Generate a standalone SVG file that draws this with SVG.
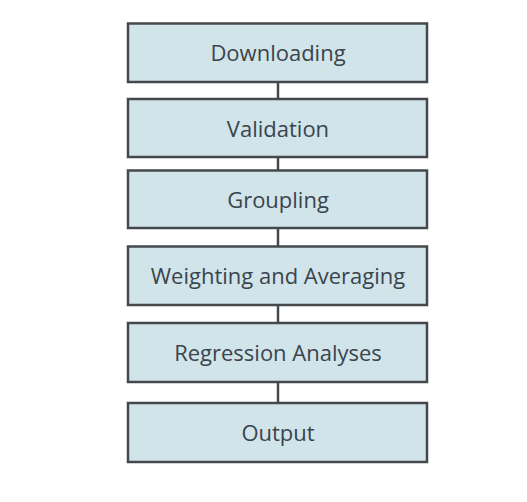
<svg xmlns="http://www.w3.org/2000/svg" width="527" height="502" viewBox="0 0 527 502">
<style>
.box{fill:#d0e4ea;stroke:#45494c;stroke-width:2.5}
.lbl{font-family:"Open Sans","Noto Sans",sans-serif;font-size:22px;fill:#3a444c;text-anchor:middle}
.conn{stroke:#45494c;stroke-width:2.5;fill:none}
</style>
<rect width="527" height="502" fill="#ffffff"/>
<g id="connectors">
<line class="conn" x1="278" y1="82" x2="278" y2="99"/>
<line class="conn" x1="278" y1="157" x2="278" y2="170"/>
<line class="conn" x1="278" y1="228" x2="278" y2="246"/>
<line class="conn" x1="278" y1="305" x2="278" y2="323"/>
<line class="conn" x1="278" y1="382" x2="278" y2="403"/>
</g>
<g id="downloading"><rect class="box" x="128" y="23.5" width="299" height="58.5"/><text class="lbl" x="278" y="61">Downloading</text></g>
<g id="validation"><rect class="box" x="128" y="99" width="299" height="58"/><text class="lbl" x="278" y="136.5">Validation</text></g>
<g id="groupling"><rect class="box" x="128" y="170.5" width="299" height="57.5"/><text class="lbl" x="278" y="207.5">Groupling</text></g>
<g id="weighting"><rect class="box" x="128" y="246.5" width="299" height="58.5"/><text class="lbl" x="278" y="284">Weighting and Averaging</text></g>
<g id="regression"><rect class="box" x="128" y="323" width="299" height="59"/><text class="lbl" x="278" y="361">Regression Analyses</text></g>
<g id="output"><rect class="box" x="128" y="403" width="299" height="59"/><text class="lbl" x="278" y="441">Output</text></g>
</svg>
